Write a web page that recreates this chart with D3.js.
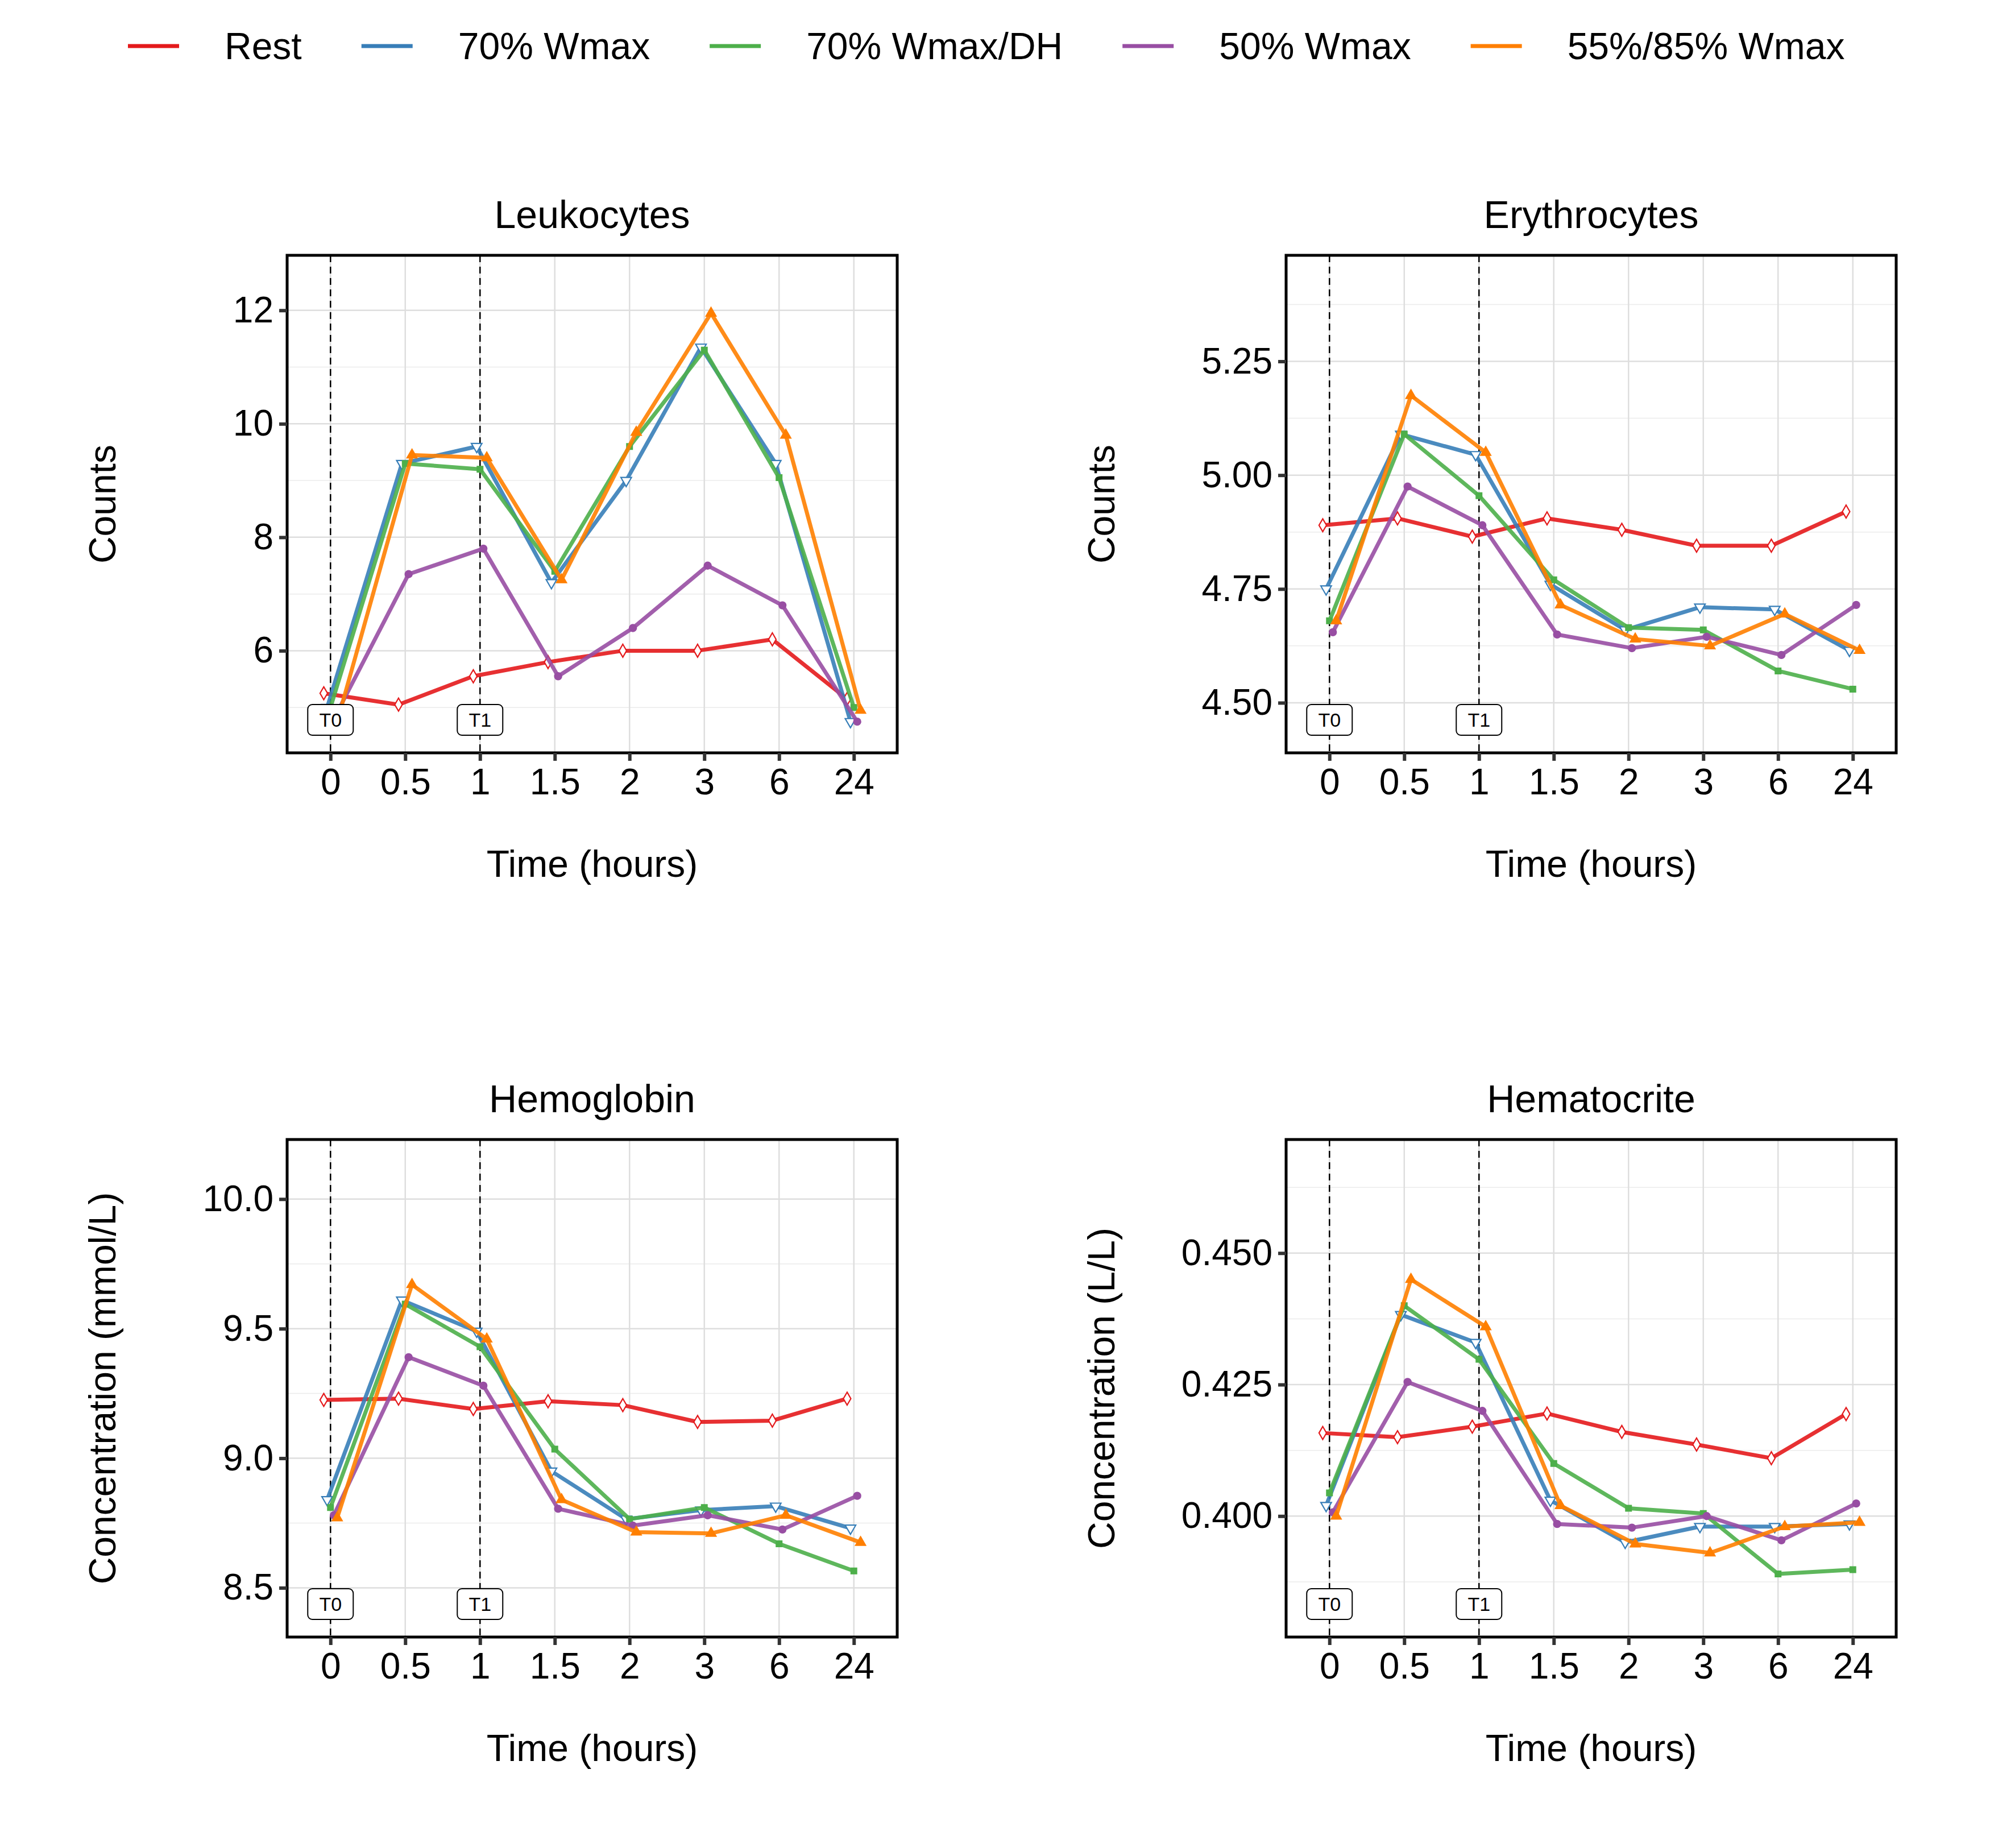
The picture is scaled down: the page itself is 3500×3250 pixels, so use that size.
<!DOCTYPE html>
<html><head><meta charset="utf-8">
<script src="https://cdn.jsdelivr.net/npm/d3@7"></script>
<style>body{margin:0;background:#fff}text{font-family:"Liberation Sans",Arial,sans-serif}</style>
</head><body><svg id="c" width="3500" height="3250"></svg>
<script>
const timeLabels = ["0","0.5","1","1.5","2","3","6","24"];
const seriesNames = ["Rest","70% Wmax","70% Wmax/DH","50% Wmax","55%/85% Wmax"];
const seriesColors = ["#E41A1C","#377EB8","#4DAF4A","#984EA3","#FF7F00"];
const seriesShapes = ["diamondOpen","triDownOpen","square","circle","triUp"];

const leukocytes = [
  [5.25,5.05,5.55,5.8,6.0,6.0,6.2,5.15],
  [5.0,9.3,9.6,7.2,9.0,11.35,9.3,4.75],
  [5.0,9.3,9.2,7.4,9.6,11.3,9.05,5.0],
  [4.8,7.35,7.8,5.55,6.4,7.5,6.8,4.75],
  [4.75,9.45,9.4,7.25,9.85,11.95,9.8,4.95]];
const erythrocytes = [
  [4.89,4.905,4.865,4.905,4.88,4.845,4.845,4.92],
  [4.75,5.09,5.045,4.76,4.66,4.71,4.705,4.615],
  [4.68,5.09,4.955,4.77,4.665,4.66,4.57,4.53],
  [4.655,4.975,4.89,4.65,4.62,4.645,4.605,4.715],
  [4.68,5.175,5.05,4.715,4.64,4.625,4.695,4.615]];
const hemoglobin = [
  [9.225,9.23,9.19,9.22,9.205,9.14,9.145,9.23],
  [8.84,9.61,9.49,8.95,8.765,8.80,8.815,8.73],
  [8.81,9.595,9.43,9.035,8.765,8.81,8.67,8.565],
  [8.78,9.39,9.28,8.805,8.74,8.78,8.725,8.855],
  [8.77,9.67,9.46,8.84,8.715,8.71,8.78,8.675]];
const hematocrite = [
  [0.4158,0.415,0.417,0.4195,0.416,0.4136,0.411,0.4194],
  [0.402,0.4383,0.433,0.403,0.395,0.398,0.398,0.3985],
  [0.4044,0.44,0.4298,0.41,0.4015,0.4005,0.389,0.3898],
  [0.4007,0.4255,0.42,0.3985,0.3978,0.40,0.3954,0.4024],
  [0.400,0.445,0.436,0.402,0.3947,0.393,0.398,0.3988]];

const panels = [
  {title:"Leukocytes", ylab:"Counts", data:leukocytes, domain:[4.2,12.97], ticks:[6,8,10,12], minor:[5,7,9,11], fmt:d3.format("d"), x0:505, y0:449},
  {title:"Erythrocytes", ylab:"Counts", data:erythrocytes, domain:[4.39,5.483], ticks:[4.5,4.75,5.0,5.25], minor:[4.625,4.875,5.125,5.375], fmt:d3.format(".2f"), x0:2262, y0:449},
  {title:"Hemoglobin", ylab:"Concentration (mmol/L)", data:hemoglobin, domain:[8.31,10.23], ticks:[8.5,9.0,9.5,10.0], minor:[8.75,9.25,9.75], fmt:d3.format(".1f"), x0:505, y0:2004},
  {title:"Hematocrite", ylab:"Concentration (L/L)", data:hematocrite, domain:[0.377,0.4716], ticks:[0.4,0.425,0.45], minor:[0.3875,0.4125,0.4375,0.4625], fmt:d3.format(".3f"), x0:2262, y0:2004}];

const W = 1073, H = 875;
const svg = d3.select("#c");

function sym(shape){
  const m = {diamondOpen:d3.symbolDiamond, triDownOpen:d3.symbolTriangle, square:d3.symbolSquare, circle:d3.symbolCircle, triUp:d3.symbolTriangle};
  return m[shape];
}

panels.forEach(p=>{
  const g = svg.append("g").attr("transform",`translate(${p.x0},${p.y0})`);
  const x = d3.scalePoint().domain(timeLabels).range([0,W]).padding(0.58);
  const step = x.step();
  const y = d3.scaleLinear().domain(p.domain).range([H,0]);
  p.minor.forEach(v=>g.append("line").attr("x1",0).attr("x2",W).attr("y1",y(v)).attr("y2",y(v)).attr("stroke","#ebebeb").attr("stroke-width",1.5));
  p.ticks.forEach(v=>g.append("line").attr("x1",0).attr("x2",W).attr("y1",y(v)).attr("y2",y(v)).attr("stroke","#dedede").attr("stroke-width",2.5));
  timeLabels.forEach(t=>g.append("line").attr("x1",x(t)).attr("x2",x(t)).attr("y1",0).attr("y2",H).attr("stroke","#dedede").attr("stroke-width",2.5));
  ["0","1"].forEach(t=>g.append("line").attr("x1",x(t)).attr("x2",x(t)).attr("y1",0).attr("y2",H).attr("stroke","#000").attr("stroke-width",2.5).attr("stroke-dasharray","12,8"));
  p.data.forEach((vals,si)=>{
    const off = (si-2)*step*0.045;
    const pts = vals.map((v,i)=>[x(timeLabels[i])+off, y(v)]);
    g.append("path").attr("d",d3.line()(pts)).attr("fill","none").attr("stroke",seriesColors[si]).attr("stroke-opacity",0.9).attr("stroke-width",7).attr("stroke-linejoin","round");
    const shp = seriesShapes[si];
    const open = shp.endsWith("Open");
    pts.forEach(pt=>{
      g.append("path").attr("d",d3.symbol(sym(shp), shp==="square"?110:(shp==="circle"?130:150))())
        .attr("transform",`translate(${pt[0]},${pt[1]})${shp==="triDownOpen"?" rotate(180)":""}`)
        .attr("fill",open?"#fff":seriesColors[si]).attr("stroke",seriesColors[si]).attr("stroke-width",open?2.2:1.5);
    });
  });
  [["0","T0"],["1","T1"]].forEach(([t,l])=>{
    g.append("rect").attr("x",x(t)-40).attr("y",H-85).attr("width",80).attr("height",54).attr("rx",8).attr("fill","#fff").attr("stroke","#000").attr("stroke-width",2);
    g.append("text").attr("x",x(t)).attr("y",H-46).attr("text-anchor","middle").attr("font-size",34).text(l);
  });
  g.append("rect").attr("width",W).attr("height",H).attr("fill","none").attr("stroke","#000").attr("stroke-width",5);
  const ya = g.append("g").call(d3.axisLeft(y).tickValues(p.ticks).tickFormat(p.fmt).tickSize(14).tickPadding(10));
  ya.select(".domain").remove();
  ya.selectAll("line").attr("stroke","#333").attr("stroke-width",6);
  ya.selectAll("text").attr("font-size",64).attr("fill","#000").attr("font-family","Liberation Sans, Arial");
  const xa = g.append("g").attr("transform",`translate(0,${H})`).call(d3.axisBottom(x).tickSize(14).tickPadding(14));
  xa.select(".domain").remove();
  xa.selectAll("line").attr("stroke","#333").attr("stroke-width",6);
  xa.selectAll("text").attr("font-size",64).attr("fill","#000").attr("font-family","Liberation Sans, Arial");
  g.append("text").attr("x",W/2).attr("y",-48).attr("text-anchor","middle").attr("font-size",68).text(p.title);
  g.append("text").attr("x",W/2).attr("y",H+218).attr("text-anchor","middle").attr("font-size",66).text("Time (hours)");
  g.append("text").attr("transform",`translate(-302,${H/2}) rotate(-90)`).attr("text-anchor","middle").attr("font-size",66).text(p.ylab);
});

const lg = svg.append("g").attr("transform","translate(0,81)");
let lx = 225;
seriesNames.forEach((n,i)=>{
  lg.append("line").attr("x1",lx).attr("x2",lx+90).attr("y1",0).attr("y2",0).attr("stroke",seriesColors[i]).attr("stroke-width",7);
  const t = lg.append("text").attr("x",lx+170).attr("y",23).attr("font-size",66).text(n);
  const w = t.node().getComputedTextLength();
  lx = lx+170+w+105;
});
</script></body></html>
